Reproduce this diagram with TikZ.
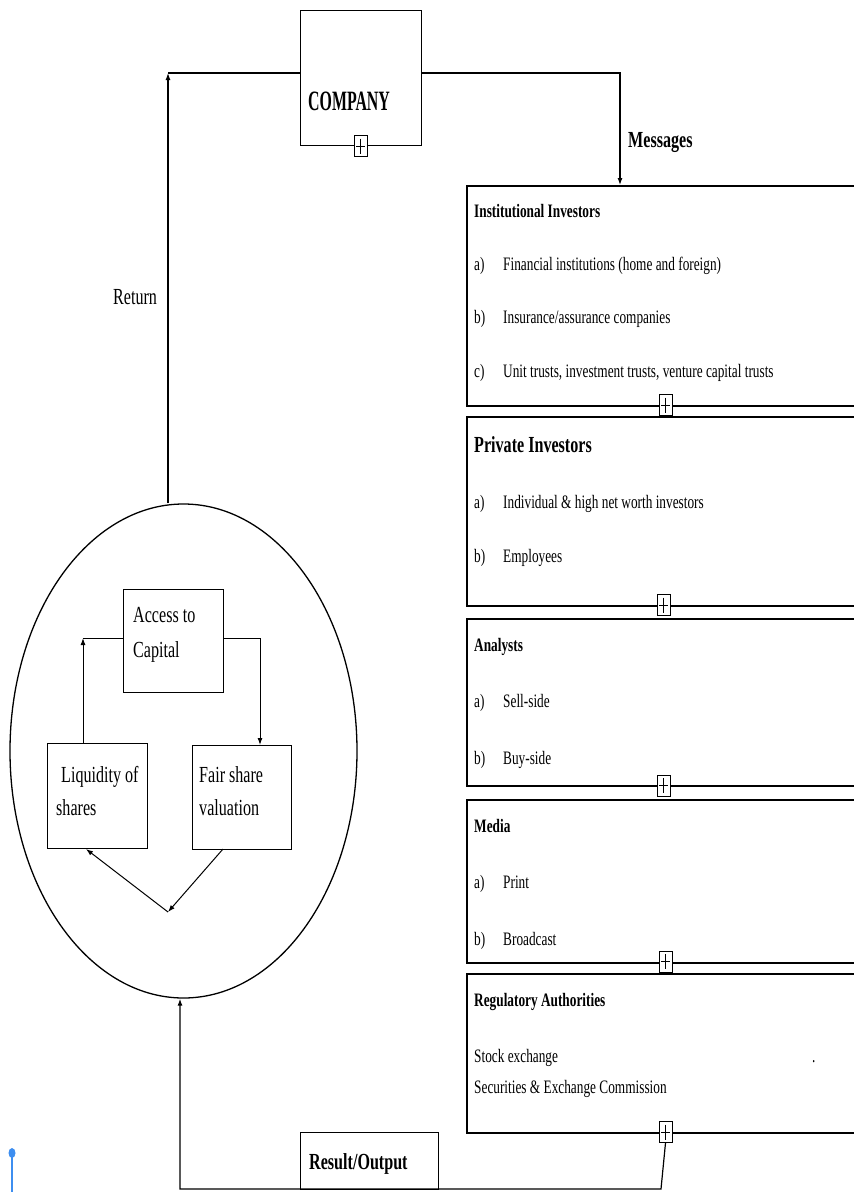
\documentclass[tikz,border=0pt]{standalone}
\usepackage{fontspec}
\setmainfont{Liberation Serif}[FakeStretch=0.7]
\usetikzlibrary{arrows.meta,shapes.geometric}
\definecolor{pinblue}{HTML}{3D8EF0}
\begin{document}
\begin{tikzpicture}[x=1pt,y=-1pt,
  arr/.style={-{Latex[length=7pt,width=5pt]}},
  conn/.style={line width=1.2pt},
  bigbox/.style={draw, line width=1.6pt, rectangle, anchor=north west, inner sep=0pt, minimum width=420pt},
  smallbox/.style={draw, line width=1.1pt, rectangle, anchor=north west, inner sep=0pt},
  plusicon/.style={draw, line width=1pt, fill=white, rectangle, minimum width=13pt, minimum height=21pt, inner sep=0pt,
    path picture={
      \draw[line width=0.8pt] ([yshift=-3pt]path picture bounding box.north) -- ([yshift=3pt]path picture bounding box.south);
      \draw[line width=0.8pt] ([xshift=2pt]path picture bounding box.west) -- ([xshift=-2pt]path picture bounding box.east);}},
  txt/.style={anchor=base west, inner sep=0pt, font=\fontsize{19}{22}\selectfont},
  hd/.style={anchor=base west, inner sep=0pt, font=\fontsize{19}{22}\selectfont\bfseries},
  bigtxt/.style={anchor=base west, inner sep=0pt, font=\fontsize{23}{26}\selectfont},
  bighd/.style={anchor=base west, inner sep=0pt, font=\fontsize{23}{26}\selectfont\bfseries}
]
\useasboundingbox (0,0) rectangle (854,1192);
\clip (0,0) rectangle (854,1192);

% main boxes
\node[smallbox, line width=1.4pt, minimum width=121pt, minimum height=135pt] (company) at (300,10) {};
\node[bigbox, minimum height=220pt] (inst) at (466,185) {};
\node[bigbox, minimum height=189pt] (priv) at (466,416) {};
\node[bigbox, minimum height=167pt] (anal) at (466,618) {};
\node[bigbox, minimum height=163pt] (media) at (466,799) {};
\node[bigbox, minimum height=159pt] (reg) at (466,973) {};
\node[smallbox, line width=1.3pt, minimum width=138pt, minimum height=57pt] (result) at (300,1132) {};

% circle and inner boxes
\node[draw, ellipse, line width=1.3pt, minimum width=347pt, minimum height=494pt, inner sep=0pt] (circ) at (183.5,751) {};
\node[smallbox, minimum width=100pt, minimum height=103pt] (acc) at (123,589) {};
\node[smallbox, minimum width=100pt, minimum height=105pt] (liq) at (47,743) {};
\node[smallbox, minimum width=99pt, minimum height=104pt] (fair) at (192,745) {};

% plus icons
\node[plusicon] (p0) at (360.5,146) {};
\node[plusicon] (p1) at (665.5,405) {};
\node[plusicon] (p2) at (663.5,605) {};
\node[plusicon] (p3) at (663.5,785.5) {};
\node[plusicon] (p4) at (665.5,961.5) {};
\node[plusicon] (p5) at (665.5,1132) {};

% coordinates for connector bends
\coordinate (r1) at (168,73);
\coordinate (m1) at (620,73);
\coordinate (bb1) at (661,1189);
\coordinate (bb2) at (180,1189);
\coordinate (ia1) at (83,638);
\coordinate (ia2) at (260,638);
\coordinate (fb) at (223,849);
\coordinate (vv) at (168,912);
\coordinate (lb) at (86,849);

% connectors
\draw[conn, arr] (circ.north -| r1) -- (r1);
\draw[conn] (r1) -- (company.west |- r1);
\draw[conn, arr] (company.east |- m1) -- (m1) -- (m1 |- inst.north);
\draw[conn, arr] (p5.south) -- (bb1) -- (bb2) -- (bb2 |- circ.south);
\draw[line width=1pt, arr] (liq.north -| ia1) -- (ia1);
\draw[line width=1pt] (ia1) -- (ia1 -| acc.west);
\draw[line width=1pt, arr] (acc.east |- ia2) -- (ia2) -- (ia2 |- fair.north);
\draw[line width=1pt, arr] (fb) -- (vv);
\draw[line width=1pt, arr] (vv) -- (lb);

% labels outside
\node[anchor=base west, inner sep=0pt, font=\fontsize{28}{30}\selectfont\bfseries] (tcomp) at (308,110) {\scalebox{0.81}[1]{COMPANY}};
\node[bighd] (tmsg) at (628,147) {Messages};
\node[bigtxt] (tret) at (113,304) {Return};
\node[bighd] (tres) at (309,1169) {Result/Output};

% inner circle texts
\node[bigtxt] (tacc1) at (133,622) {Access to};
\node[bigtxt] (tacc2) at (133,657) {Capital};
\node[bigtxt] (tliq1) at (61,782) {Liquidity of};
\node[bigtxt] (tliq2) at (56,815) {shares};
\node[bigtxt] (tfair1) at (199,782) {Fair share};
\node[bigtxt] (tfair2) at (199,815) {valuation};

% institutional
\node[hd] (h1) at (474,217) {Institutional Investors};
\node[txt] (l1a) at (474,270) {a)};
\node[txt] (i1a) at (503,270) {Financial institutions (home and foreign)};
\node[txt] (l1b) at (474,323) {b)};
\node[txt] (i1b) at (503,323) {Insurance/assurance companies};
\node[txt] (l1c) at (474,377) {c)};
\node[txt] (i1c) at (503,377) {Unit trusts, investment trusts, venture capital trusts};

% private
\node[bighd] (h2) at (474,452) {Private Investors};
\node[txt] (l2a) at (474,508) {a)};
\node[txt] (i2a) at (503,508) {Individual \& high net worth investors};
\node[txt] (l2b) at (474,562) {b)};
\node[txt] (i2b) at (503,562) {Employees};

% analysts
\node[hd] (h3) at (474,651) {Analysts};
\node[txt] (l3a) at (474,707) {a)};
\node[txt] (i3a) at (503,707) {Sell-side};
\node[txt] (l3b) at (474,764) {b)};
\node[txt] (i3b) at (503,764) {Buy-side};

% media
\node[hd] (h4) at (474,832) {Media};
\node[txt] (l4a) at (474,888) {a)};
\node[txt] (i4a) at (503,888) {Print};
\node[txt] (l4b) at (474,945) {b)};
\node[txt] (i4b) at (503,945) {Broadcast};

% regulatory
\node[hd] (h5) at (474,1006) {Regulatory Authorities};
\node[txt] (i5a) at (474,1062) {Stock exchange};
\node[txt] (i5dot) at (812,1062) {.};
\node[txt] (i5b) at (474,1093) {Securities \& Exchange Commission};

% blue pin
\fill[pinblue] (12,1153) ellipse [x radius=3.5pt, y radius=5pt];
\draw[pinblue, line width=1.3pt] (12,1157) -- (12,1196);
\end{tikzpicture}
\end{document}
